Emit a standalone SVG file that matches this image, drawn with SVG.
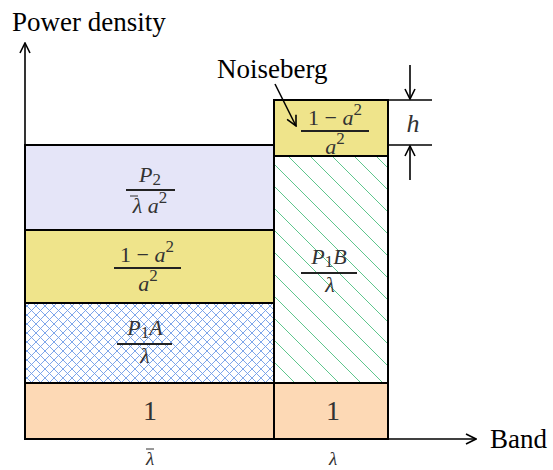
<svg xmlns="http://www.w3.org/2000/svg" width="553" height="470" viewBox="0 0 553 470">
<style>
text{font-family:"Liberation Serif","Times New Roman","DejaVu Serif",serif}
.t{fill:#000}
.m{font-style:italic;fill:#333}
.n{fill:#333}
.box{stroke:#000;stroke-width:2}
.bar{stroke:#222;stroke-width:2.2}
.ln{stroke:#000;stroke-width:1.6;fill:none}
</style>
<defs>
<marker id="ah" viewBox="0 0 12 12" refX="11" refY="6" markerWidth="12" markerHeight="12" markerUnits="userSpaceOnUse" orient="auto">
<path d="M1,1 L11,6 L1,11" fill="none" stroke="#000" stroke-width="1.6"/>
</marker>
<pattern id="xh" patternUnits="userSpaceOnUse" width="9" height="9">
<rect width="9" height="9" fill="#fff"/>
<path d="M0,0 L9,9 M9,0 L0,9" stroke="#6f9ce8" stroke-width="0.9"/>
</pattern>
<pattern id="gh" patternUnits="userSpaceOnUse" width="22" height="22">
<rect width="22" height="22" fill="#fff"/>
<path d="M0,0 L22,22 M-11,11 L11,33 M11,-11 L33,11" stroke="#4cc080" stroke-width="0.9"/>
</pattern>
</defs>

<g id="left-one">
<rect class="box" x="25" y="383" width="249" height="56" fill="#fdd9b5"/>
<text class="n" x="150" y="420" font-size="28" text-anchor="middle">1</text>
</g>
<g id="left-p1a">
<rect class="box" x="25" y="303" width="249" height="80" fill="url(#xh)"/>
<text class="m" x="145" y="335" font-size="22" text-anchor="middle">P<tspan class="n" font-style="normal" font-size="17" dy="3">1</tspan><tspan dy="-3">A</tspan></text>
<line class="bar" x1="117" y1="344" x2="172" y2="344"/>
<text class="m" x="145" y="363" font-size="22" text-anchor="middle">λ</text>
</g>
<g id="left-yellow">
<rect class="box" x="25" y="230" width="249" height="73" fill="#efe48b"/>
<text class="n" x="147" y="262" font-size="22" text-anchor="middle">1 − <tspan font-style="italic">a</tspan><tspan font-size="17" dy="-10">2</tspan></text>
<line class="bar" x1="114" y1="268" x2="181" y2="268"/>
<text class="m" x="148" y="291" font-size="22" text-anchor="middle">a<tspan class="n" font-style="normal" font-size="17" dy="-10">2</tspan></text>
</g>
<g id="left-p2">
<rect class="box" x="25" y="145" width="249" height="85" fill="#e5e5f8"/>
<text class="m" x="150" y="182" font-size="22" text-anchor="middle">P<tspan class="n" font-style="normal" font-size="17" dy="3">2</tspan></text>
<line class="bar" x1="126" y1="190" x2="175" y2="190"/>
<text class="m" x="150" y="213" font-size="22" text-anchor="middle">λ a<tspan class="n" font-style="normal" font-size="17" dy="-10">2</tspan></text>
<line x1="130" y1="196" x2="138" y2="196" stroke="#333" stroke-width="1"/>
</g>

<g id="right-one">
<rect class="box" x="274" y="383" width="114" height="56" fill="#fdd9b5"/>
<text class="n" x="333" y="420" font-size="28" text-anchor="middle">1</text>
</g>
<g id="right-p1b">
<rect class="box" x="274" y="156" width="114" height="227" fill="url(#gh)"/>
<text class="m" x="329" y="264" font-size="22" text-anchor="middle">P<tspan class="n" font-style="normal" font-size="17" dy="3">1</tspan><tspan dy="-3">B</tspan></text>
<line class="bar" x1="301" y1="273" x2="357" y2="273"/>
<text class="m" x="330" y="292" font-size="22" text-anchor="middle">λ</text>
</g>
<g id="noiseberg">
<rect class="box" x="274" y="100" width="114" height="56" fill="#efe48b"/>
<text class="n" x="335" y="125" font-size="22" text-anchor="middle">1 − <tspan font-style="italic">a</tspan><tspan font-size="17" dy="-10">2</tspan></text>
<line class="bar" x1="301" y1="131" x2="369" y2="131"/>
<text class="m" x="335" y="154" font-size="22" text-anchor="middle">a<tspan class="n" font-style="normal" font-size="17" dy="-10">2</tspan></text>
</g>

<g id="connectors">
<line class="ln" x1="25" y1="440" x2="25" y2="43" marker-end="url(#ah)"/>
<line class="ln" x1="25" y1="439" x2="476" y2="439" marker-end="url(#ah)"/>
<line class="ln" x1="388" y1="100" x2="432" y2="100"/>
<line class="ln" x1="388" y1="145" x2="432" y2="145"/>
<line class="ln" x1="410" y1="65" x2="410" y2="99" marker-end="url(#ah)"/>
<line class="ln" x1="410" y1="180" x2="410" y2="146" marker-end="url(#ah)"/>
<line class="ln" x1="275" y1="84" x2="296" y2="126" marker-end="url(#ah)"/>
</g>

<g id="labels">
<text class="t" x="12" y="31" font-size="27">Power density</text>
<text class="t" x="217" y="78" font-size="27">Noiseberg</text>
<text class="t" x="490" y="448" font-size="27">Band</text>
<text class="m" x="413" y="132" font-size="26" text-anchor="middle">h</text>
<text class="m" x="150" y="465" font-size="19" text-anchor="middle">λ</text>
<line x1="146" y1="449" x2="154" y2="449" stroke="#333" stroke-width="1"/>
<text class="m" x="333" y="465" font-size="19" text-anchor="middle">λ</text>
</g>
</svg>
